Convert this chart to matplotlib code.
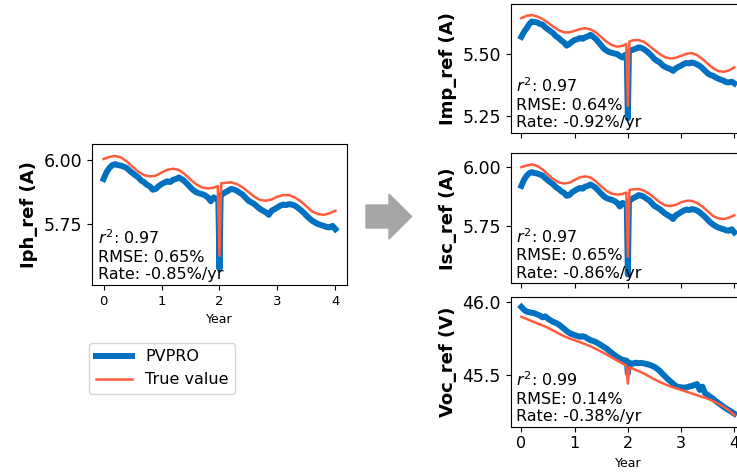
import matplotlib
matplotlib.use("Agg")
import matplotlib.pyplot as plt
from matplotlib.patches import FancyArrow

# time axes (years); the true curves are sampled coarser than the PVPRO fits
year_true = [0.0, 0.1, 0.2, 0.3, 0.4, 0.5, 0.6, 0.7, 0.8, 0.9,
             1.0, 1.1, 1.2, 1.3, 1.4, 1.5, 1.6, 1.7, 1.8, 1.9,
             1.97, 2.0, 2.03,
             2.1, 2.2, 2.3, 2.4, 2.5, 2.6, 2.7, 2.8, 2.9, 3.0,
             3.1, 3.2, 3.3, 3.4, 3.5, 3.6, 3.7, 3.8, 3.9, 4.0]

year_fit = [0.00, 0.05, 0.10, 0.15, 0.20, 0.25, 0.30, 0.35, 0.40, 0.45,
            0.50, 0.55, 0.60, 0.65, 0.70, 0.75, 0.80, 0.85, 0.90, 0.95,
            1.00, 1.05, 1.10, 1.15, 1.20, 1.25, 1.30, 1.35, 1.40, 1.45,
            1.50, 1.55, 1.60, 1.65, 1.70, 1.75, 1.80, 1.85, 1.90, 1.95,
            1.98, 2.00, 2.02,
            2.05, 2.10, 2.15, 2.20, 2.25, 2.30, 2.35, 2.40, 2.45, 2.50,
            2.55, 2.60, 2.65, 2.70, 2.75, 2.80, 2.85, 2.90, 2.95, 3.00,
            3.05, 3.10, 3.15, 3.20, 3.25, 3.30, 3.35, 3.40, 3.45, 3.50,
            3.55, 3.60, 3.65, 3.70, 3.75, 3.80, 3.85, 3.90, 3.95, 4.00]

iph_true = [6.004, 6.012, 6.016, 6.010, 5.995, 5.974, 5.954, 5.941, 5.936, 5.939,
            5.951, 5.962, 5.966, 5.961, 5.945, 5.924, 5.905, 5.893, 5.889, 5.892,
            5.898, 5.626, 5.909,
            5.911, 5.913, 5.906, 5.893, 5.875, 5.857, 5.844, 5.841, 5.846, 5.857,
            5.863, 5.863, 5.854, 5.839, 5.819, 5.799, 5.789, 5.786, 5.792, 5.802]

iph_fit = [5.926, 5.952, 5.969, 5.980, 5.984, 5.980, 5.978, 5.974, 5.969, 5.958,
           5.949, 5.940, 5.932, 5.920, 5.913, 5.903, 5.897, 5.884, 5.887, 5.898,
           5.906, 5.912, 5.917, 5.914, 5.923, 5.926, 5.932, 5.925, 5.917, 5.905,
           5.893, 5.882, 5.874, 5.870, 5.867, 5.862, 5.854, 5.839, 5.854, 5.848,
           5.846, 5.575, 5.862,
           5.867, 5.874, 5.880, 5.887, 5.885, 5.880, 5.872, 5.865, 5.853, 5.841,
           5.835, 5.828, 5.818, 5.809, 5.802, 5.796, 5.786, 5.802, 5.808, 5.815,
           5.822, 5.826, 5.824, 5.828, 5.826, 5.822, 5.814, 5.805, 5.795, 5.783,
           5.772, 5.763, 5.756, 5.750, 5.746, 5.743, 5.738, 5.737, 5.743, 5.730]

imp_true = [5.646, 5.655, 5.658, 5.652, 5.642, 5.627, 5.611, 5.597, 5.588, 5.588,
            5.594, 5.601, 5.605, 5.600, 5.588, 5.569, 5.550, 5.536, 5.530, 5.533,
            5.541, 5.290, 5.551,
            5.556, 5.557, 5.550, 5.534, 5.516, 5.500, 5.487, 5.482, 5.485, 5.493,
            5.501, 5.504, 5.496, 5.480, 5.461, 5.443, 5.431, 5.428, 5.434, 5.446]

imp_fit = [5.570, 5.590, 5.605, 5.622, 5.632, 5.630, 5.628, 5.622, 5.619, 5.608,
           5.600, 5.592, 5.584, 5.572, 5.565, 5.555, 5.547, 5.534, 5.541, 5.550,
           5.557, 5.560, 5.565, 5.562, 5.568, 5.572, 5.578, 5.570, 5.561, 5.548,
           5.535, 5.522, 5.514, 5.508, 5.505, 5.502, 5.500, 5.492, 5.486, 5.497,
           5.495, 5.240, 5.510,
           5.514, 5.518, 5.522, 5.527, 5.525, 5.520, 5.512, 5.503, 5.492, 5.480,
           5.472, 5.466, 5.455, 5.448, 5.443, 5.439, 5.432, 5.442, 5.448, 5.453,
           5.460, 5.464, 5.462, 5.466, 5.463, 5.458, 5.452, 5.443, 5.432, 5.422,
           5.415, 5.412, 5.405, 5.400, 5.396, 5.392, 5.386, 5.385, 5.388, 5.381]

isc_true = [5.998, 6.005, 6.009, 6.003, 5.988, 5.967, 5.947, 5.934, 5.929, 5.932,
            5.944, 5.955, 5.959, 5.954, 5.938, 5.917, 5.898, 5.886, 5.882, 5.885,
            5.891, 5.620, 5.902,
            5.904, 5.906, 5.899, 5.886, 5.868, 5.850, 5.837, 5.834, 5.839, 5.850,
            5.856, 5.856, 5.847, 5.832, 5.812, 5.792, 5.782, 5.779, 5.785, 5.795]

isc_fit = [5.919, 5.945, 5.962, 5.973, 5.977, 5.973, 5.971, 5.967, 5.962, 5.951,
           5.942, 5.933, 5.925, 5.913, 5.906, 5.896, 5.890, 5.877, 5.880, 5.891,
           5.899, 5.905, 5.910, 5.907, 5.916, 5.919, 5.925, 5.918, 5.910, 5.898,
           5.886, 5.875, 5.867, 5.863, 5.860, 5.855, 5.847, 5.832, 5.847, 5.841,
           5.839, 5.545, 5.855,
           5.860, 5.867, 5.873, 5.880, 5.878, 5.873, 5.865, 5.858, 5.846, 5.834,
           5.828, 5.821, 5.811, 5.802, 5.795, 5.789, 5.779, 5.795, 5.801, 5.808,
           5.815, 5.819, 5.817, 5.821, 5.819, 5.815, 5.807, 5.798, 5.788, 5.776,
           5.765, 5.756, 5.749, 5.743, 5.739, 5.736, 5.731, 5.730, 5.736, 5.723]

voc_true = [45.896, 45.882, 45.867, 45.852, 45.838, 45.822, 45.803, 45.783, 45.765, 45.750,
            45.737, 45.724, 45.710, 45.695, 45.678, 45.659, 45.640, 45.619, 45.598, 45.578,
            45.565, 45.441, 45.553,
            45.542, 45.527, 45.510, 45.490, 45.470, 45.452, 45.436, 45.422, 45.410, 45.398,
            45.386, 45.374, 45.362, 45.350, 45.338, 45.322, 45.304, 45.283, 45.258, 45.228]

voc_fit = [45.964, 45.945, 45.932, 45.928, 45.924, 45.920, 45.913, 45.905, 45.893, 45.900,
           45.884, 45.872, 45.862, 45.855, 45.845, 45.830, 45.816, 45.800, 45.787, 45.779,
           45.772, 45.766, 45.761, 45.764, 45.759, 45.747, 45.737, 45.732, 45.724, 45.714,
           45.703, 45.691, 45.680, 45.664, 45.650, 45.636, 45.623, 45.612, 45.603, 45.600,
           45.596, 45.510, 45.584,
           45.580, 45.576, 45.584, 45.580, 45.582, 45.579, 45.574, 45.570, 45.563, 45.555,
           45.542, 45.527, 45.508, 45.490, 45.472, 45.456, 45.440, 45.425, 45.418, 45.416,
           45.413, 45.415, 45.421, 45.425, 45.432, 45.438, 45.398, 45.420, 45.376, 45.364,
           45.350, 45.339, 45.322, 45.309, 45.296, 45.282, 45.270, 45.259, 45.248, 45.236]

# (r2, rmse, rate) shown in each panel
stats_iph = ("0.97", "0.65%", "-0.85%/yr")
stats_imp = ("0.97", "0.64%", "-0.92%/yr")
stats_isc = ("0.97", "0.65%", "-0.86%/yr")
stats_voc = ("0.99", "0.14%", "-0.38%/yr")

BLUE = "#0070c0"
RED = "#ff5b3d"

fig = plt.figure(figsize=(7.37, 4.75), dpi=100)


def panel(rect, fit, true, ylabel, stats, yticks, yfmt, ylim, xlabels, xsize):
    ax = fig.add_axes(rect)
    ax.plot(year_fit, fit, color=BLUE, lw=4.3, label="PVPRO")
    ax.plot(year_true, true, color=RED, lw=1.8, label="True value")
    ax.set_xlim(-0.2, 4.2)
    ax.set_ylim(*ylim)
    ax.set_xticks([0, 1, 2, 3, 4])
    ax.set_yticks(yticks)
    ax.set_yticklabels([yfmt % v for v in yticks])
    ax.tick_params(axis="y", labelsize=12.5)
    ax.tick_params(axis="x", labelsize=xsize, labelbottom=xlabels)
    ax.set_ylabel(ylabel, fontsize=13, fontweight="bold")
    if xlabels:
        ax.set_xlabel("Year", fontsize=9)
    txt = "$r^2$: %s\nRMSE: %s\nRate: %s" % stats
    ax.annotate(txt, xy=(0, 0), xycoords="axes fraction", xytext=(4, 2),
                textcoords="offset points", ha="left", va="bottom",
                fontsize=11.5, linespacing=1.2)
    return ax


ax_iph = panel([0.1248, 0.400, 0.346, 0.2968], iph_fit, iph_true, "Iph_ref (A)",
               stats_iph, [5.75, 6.00], "%.2f", (5.512, 6.0625), True, 9.5)
panel([0.693, 0.720, 0.3178, 0.2716], imp_fit, imp_true, "Imp_ref (A)",
      stats_imp, [5.25, 5.50], "%.2f", (5.18, 5.703), False, 11.5)
panel([0.693, 0.4036, 0.3178, 0.2737], isc_fit, isc_true, "Isc_ref (A)",
      stats_isc, [5.75, 6.00], "%.2f", (5.508, 6.0565), False, 11.5)
panel([0.693, 0.1017, 0.3178, 0.2724], voc_fit, voc_true, "Voc_ref (V)",
      stats_voc, [45.5, 46.0], "%.1f", (45.147, 46.03), True, 11.5)

handles, labels = ax_iph.get_legend_handles_labels()
fig.legend(handles, labels, loc="upper left", bbox_to_anchor=(0.121, 0.278),
           borderaxespad=0, fontsize=11.5, handlelength=2.3)

# grey arrow between the single panel and the stacked panels
fig.add_artist(FancyArrow(0.4966, 0.5442, 0.062, 0, width=0.0484,
                          head_width=0.0947, head_length=0.0308,
                          length_includes_head=True, color="#a6a6a6",
                          transform=fig.transFigure))

fig.savefig("out.png", dpi=100)
